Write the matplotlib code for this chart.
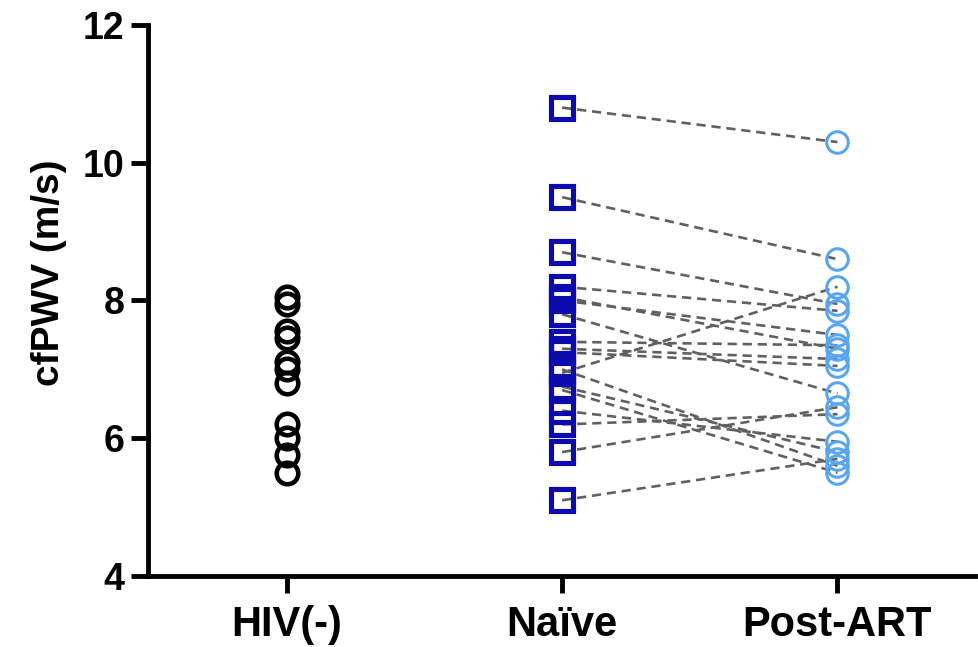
import matplotlib.pyplot as plt
import numpy as np

# group labels
groups = ['HIV(-)', 'Naïve', 'Post-ART']

# cfPWV values (m/s)
hiv_neg = [8.05, 7.95, 7.55, 7.45, 7.1, 7.0, 6.8, 6.2, 6.0, 5.75, 5.5]
# paired naive -> post-ART
naive = [10.8, 9.5, 8.7, 8.2, 8.05, 8.0, 7.8, 7.4, 7.3, 7.25, 7.0, 6.95, 6.75, 6.7, 6.4, 6.2, 5.8, 5.1]
post_art = [10.3, 8.6, 7.95, 7.85, 7.3, 7.5, 6.65, 7.35, 7.15, 7.05, 5.6, 8.2, 5.8, 5.5, 5.95, 6.35, 6.45, 5.7]

plt.rcParams['font.family'] = ['Liberation Sans', 'DejaVu Sans']
plt.rcParams['font.weight'] = 'bold'

fig = plt.figure(figsize=(9.79, 6.47), dpi=100)
ax = fig.add_axes([0.151, 0.1097, 0.845, 0.8517])

# paired lines
for a, b in zip(naive, post_art):
    ax.plot([1, 2], [a, b], color='#606060', linestyle=(0, (3.5, 2.2)), linewidth=1.9, zorder=1)

ax.plot(np.zeros(len(hiv_neg)), hiv_neg, linestyle='none', marker='o', markersize=15.5,
        markerfacecolor='none', markeredgecolor='black', markeredgewidth=3.3, zorder=3)
ax.plot(np.ones(len(naive)), naive, linestyle='none', marker='s', markersize=15.5,
        markerfacecolor='none', markeredgecolor='#0A0AAF', markeredgewidth=3.7, zorder=3)
ax.plot(np.full(len(post_art), 2), post_art, linestyle='none', marker='o', markersize=15.5,
        markerfacecolor='none', markeredgecolor='#5AA5F0', markeredgewidth=2.2, zorder=3)

ax.set_xlim(-0.505, 2.5)
ax.set_ylim(4, 12)
ax.set_yticks([4, 6, 8, 10, 12])
ax.set_xticks([0, 1, 2])
ax.set_xticklabels(groups)
ax.set_ylabel('cfPWV (m/s)', fontsize=28, fontweight='bold')
ax.yaxis.set_label_coords(-0.098, 0.55)

for s in ['top', 'right']:
    ax.spines[s].set_visible(False)
for s in ['left', 'bottom']:
    ax.spines[s].set_linewidth(3.5)
ax.tick_params(axis='both', length=12, width=3.5)
ax.tick_params(axis='y', labelsize=27, pad=5)
ax.tick_params(axis='x', labelsize=30, pad=9)
for lab in ax.get_xticklabels() + ax.get_yticklabels():
    lab.set_fontweight('bold')

fig.savefig('out.png', dpi=100)
